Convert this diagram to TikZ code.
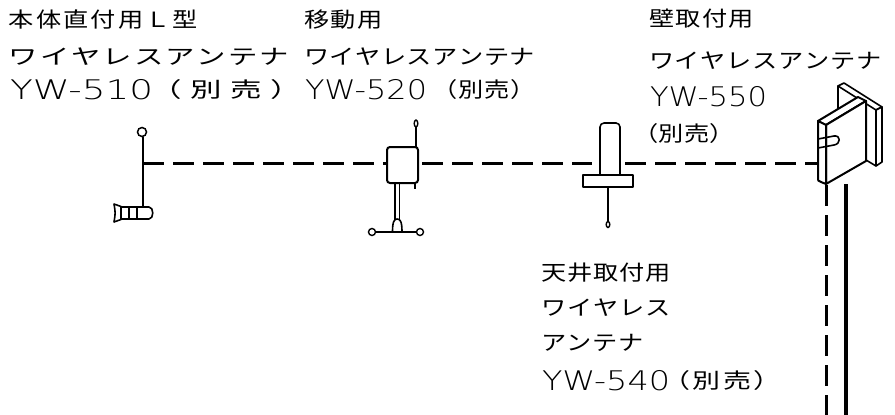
\documentclass[tikz,border=0pt]{standalone}
\usepackage{fontspec}
\usepackage{graphicx}
\setmainfont{Noto Sans CJK JP}
\newfontfamily\thinlatin{DejaVuSans-ExtraLight.ttf}
% a Japanese label: glyphs widened (by default 1.2x) and spread over the given width
\newcommand\jline[3][5/6]{\resizebox{#2}{\height}{\hbox to \dimexpr #2*#1\relax{\fontsize{21}{21}\selectfont #3}}}
% a model number in a thin wide sans
\newcommand\model[2]{\resizebox{#1}{\height}{\fontsize{27}{27}\thinlatin #2}}
\newcommand\sold{（\hfil 別\hfil 売\hfil ）}
\newcommand\wantenna{ワ\hfil イ\hfil ヤ\hfil レ\hfil ス\hfil ア\hfil ン\hfil テ\hfil ナ}
\tikzset{
  lbl/.style={anchor=west, inner sep=0pt, outer sep=0pt},
  cable/.style={line width=3pt, dash pattern=on 21pt off 9pt},
  part/.style={line width=1.6pt, line join=round, line cap=round},
  body/.style={line width=2pt, line join=round, fill=white},
}
\begin{document}
\begin{tikzpicture}[x=1pt, y=-1pt]
\useasboundingbox (0,0) rectangle (895,415);

% ---- labels ----
\node[lbl] (t1a) at (9,20)   {\jline{189pt}{本\hfil 体\hfil 直\hfil 付\hfil 用\hfil Ｌ\hfil 型}};
\node[lbl] (t1b) at (9,57)   {\jline[5/7]{280pt}{\wantenna}};
\node[lbl] (t1c) at (10,90)  {\model{143pt}{YW-510}};
\node[lbl] (t1d) at (150,90) {\jline[2/3]{152pt}{\sold}};

\node[lbl] (t2a) at (304,20) {\jline{79pt}{移\hfil 動\hfil 用}};
\node[lbl] (t2b) at (304,57) {\jline{231pt}{\wantenna}};
\node[lbl] (t2c) at (305,90) {\model{122pt}{YW-520}};
\node[lbl] (t2d) at (432,90) {\jline{104pt}{\sold}};

\node[lbl] (t3a) at (649,19)  {\jline{105pt}{壁\hfil 取\hfil 付\hfil 用}};
\node[lbl] (t3b) at (649,61)  {\jline{233pt}{\wantenna}};
\node[lbl] (t3c) at (650,97)  {\model{117pt}{YW-550}};
\node[lbl] (t3d) at (633,134) {\jline{102pt}{\sold}};

\node[lbl] (t4a) at (541,273) {\jline{130pt}{天\hfil 井\hfil 取\hfil 付\hfil 用}};
\node[lbl] (t4b) at (541,308) {\jline{130pt}{ワ\hfil イ\hfil ヤ\hfil レ\hfil ス}};
\node[lbl] (t4c) at (541,343) {\jline{103pt}{ア\hfil ン\hfil テ\hfil ナ}};
\node[lbl] (t4d) at (542,381) {\model{128pt}{YW-540}};
\node[lbl] (t4e) at (662,381) {\jline[3/4]{120pt}{\sold}};

% ---- L-type antenna on the unit ----
\coordinate (p510) at (143,163);
\draw[part] (143,137) -- (143,207);
\draw[line width=1.5pt, fill=white] (142,132) circle (4.5);
\draw[part, fill=white] (114,204) -- (121,206.5) -- (121,219.5) -- (114,222) .. controls (115.5,213) .. cycle;
\draw[part, fill=white] (121,207) -- (149,207) .. controls (154,207) and (154,219) .. (149,219) -- (121,219) -- cycle;
\draw[part] (129,207) -- (129,219) (137,207) -- (137,219);

% ---- portable antenna ----
\draw[body, rounded corners=3pt] (387,147) rectangle (418,183);
\node[inner sep=0pt, outer sep=0pt, minimum width=31pt, minimum height=36pt] (m520) at (402.5,165) {};
\fill (413.5,183) rectangle (416,189);
\draw[part] (416,147) -- (416,127);
\draw[line width=1.4pt, fill=white] (416,123.5) ellipse (1.8 and 3.5);
\draw[line width=1.3pt] (395,183) -- (395,221) (399.5,183) -- (399.5,221);
\draw[part, fill=white] (392.5,232) .. controls (392.5,222) and (394,219) .. (397.2,219)
      .. controls (400.5,219) and (402,222) .. (402,232);
\draw[part] (375.5,232) -- (416.5,232);
\draw[line width=1.4pt, fill=white] (372,232) circle (3.5) (420,232) circle (3.5);

% ---- ceiling antenna ----
\draw[part, rounded corners=4pt] (600,175) -- (600,123) -- (620,123) -- (620,175);
\draw[part, fill=white] (583,175) rectangle (633,187);
\node[inner sep=0pt, outer sep=0pt, minimum width=20pt, minimum height=52pt] (c540) at (610,149) {};
\draw[part] (608,187) -- (608,221);
\draw[line width=1.4pt, fill=white] (608,224.5) ellipse (1.8 and 3);

% ---- wall antenna ----
% wall plate
\draw[part, fill=white] (838,86) -- (844,83) -- (882,107) -- (876,110) -- cycle;
\draw[part] (838,86) -- (838,110);
\draw[part, fill=white] (876,110) -- (882,107) -- (882,162) -- (876,166) -- cycle;
\draw[part] (866,160) -- (876,166);
% housing
\draw[body] (818,121) -- (858,97) -- (866,101) -- (826,125) -- cycle;
\draw[body] (826,125) -- (866,101) -- (866,161) -- (826,184) -- cycle;
\draw[body] (818,121) -- (826,125) -- (826,184) -- (821,182) .. controls (818,181) .. (818,177) -- cycle;
\draw[part] (818,139) -- (834,136) .. controls (841,135) and (841,144) .. (834,145) -- (818,148);
\coordinate (w550) at (818,163);
\coordinate (w550b) at (826,185);
\coordinate (gnd) at (826,415);
\coordinate (pw) at (846,184);
\coordinate (pwe) at (846,415);

% ---- cables ----
\draw[cable] (p510) -- (m520.west |- p510);
\draw[cable] ([xshift=4pt]m520.east |- p510) -- ([xshift=-8pt]c540.west |- p510);
\draw[cable] ([xshift=5pt]c540.east |- p510) -- (w550);
\draw[cable] (w550b) -- (gnd);
\draw[line width=4pt] (pw) -- (pwe);
\end{tikzpicture}
\end{document}
